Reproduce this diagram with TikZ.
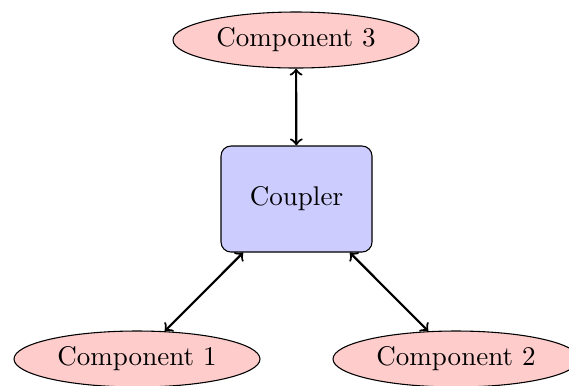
\documentclass[tikz,border=0pt]{standalone}
\usetikzlibrary{shapes.geometric}
\begin{document}
\begin{tikzpicture}[x=0.37pt,y=-0.37pt,
  comp/.style={ellipse,draw,fill=red!20,minimum width=246*0.37pt,minimum height=56*0.37pt,inner sep=0pt},
  couplerbox/.style={rectangle,rounded corners=10*0.37pt,draw,fill=blue!20,minimum width=151*0.37pt,minimum height=106*0.37pt},
  link/.style={<->,thick}]
\useasboundingbox (0,0) rectangle (569,385);
\node[couplerbox] (cpl) at (296.5,199) {Coupler};
\node[comp] (c3) at (296,40) {Component 3};
\node[comp] (c1) at (137,359) {Component 1};
\node[comp] (c2) at (456,359) {Component 2};
\draw[link] (c3) -- (cpl);
\draw[link] (cpl) -- (c1);
\draw[link] (cpl) -- (c2);
\end{tikzpicture}
\end{document}
